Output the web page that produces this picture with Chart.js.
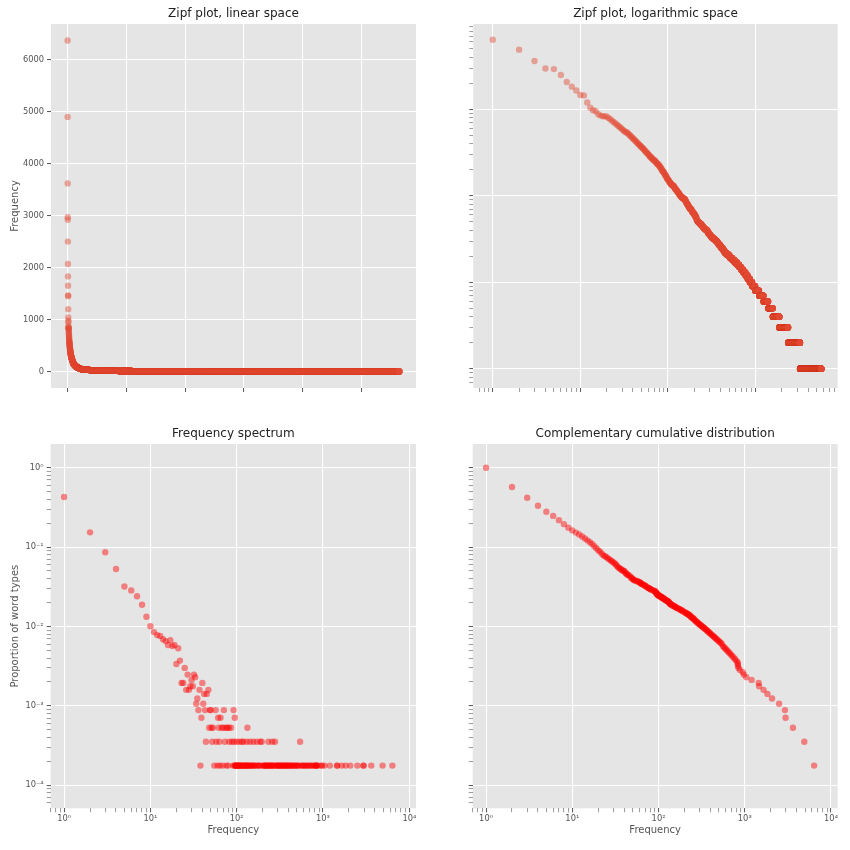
<!DOCTYPE html>
<html>
<head>
<meta charset="utf-8">
<script src="https://cdn.jsdelivr.net/npm/chart.js@4.4.1/dist/chart.umd.min.js"></script>
<style>
  html, body { margin: 0; padding: 0; background: #ffffff; }
  #figure { position: relative; width: 850px; height: 850px; overflow: hidden; }
  #figure canvas { position: absolute; }
</style>
</head>
<body>
<div id="figure">
  <canvas id="zipfLinear" width="425" height="420" style="left:0px;top:0px"></canvas>
  <canvas id="zipfLog" width="425" height="420" style="left:425px;top:0px"></canvas>
  <canvas id="freqSpectrum" width="425" height="430" style="left:0px;top:420px"></canvas>
  <canvas id="ccdf" width="425" height="430" style="left:425px;top:420px"></canvas>
</div>
<script>
// frequency spectrum: how many word types occur with a given frequency
const SPECTRUM_FREQ = [
  1, 2, 3, 4, 5, 6, 7, 8, 9, 10,
  11, 12, 13, 14, 15, 16, 17, 18, 19, 20,
  21, 22, 23, 24, 25, 26, 27, 28, 29, 30,
  31, 32, 33, 34, 35, 36, 37, 39, 40, 41,
  42, 43, 45, 47, 48, 49, 50, 51, 53, 57,
  61, 62, 65, 67, 70, 71, 75, 78, 81, 86,
  92, 95, 133,
];
const SPECTRUM_COUNT = [
  2420, 867, 486, 299, 180, 161, 136, 106, 75, 57,
  48, 44, 43, 39, 37, 33, 38, 32, 33, 19,
  30, 21, 11, 11, 17, 9, 14, 9, 10, 12,
  10, 14, 13, 6, 7, 5, 9, 4, 11, 6,
  8, 5, 8, 9, 3, 5, 5, 3, 3, 5,
  4, 3, 4, 3, 3, 5, 3, 3, 3, 3,
  5, 4, 3,
];
// frequencies shared by exactly two word types
const FREQ_SEEN_TWICE = [
  44, 52, 58, 63, 73, 82, 88, 93, 100, 108, 115, 120, 131, 143, 156, 171,
  187, 195, 233, 258, 278, 543,
];
// frequencies held by a single word type
const FREQ_SEEN_ONCE = [
  38, 55, 60, 64, 69, 76, 80, 91, 94, 96, 97, 98, 99, 101, 102, 104, 105,
  106, 109, 110, 112, 113, 116, 118, 121, 123, 125, 127, 129, 130, 135, 136,
  138, 140, 145, 148, 151, 154, 159, 163, 166, 175, 179, 183, 191, 203, 207,
  210, 214, 218, 222, 226, 229, 237, 241, 246, 250, 254, 262, 266, 271, 283,
  289, 294, 300, 306, 312, 318, 324, 331, 338, 345, 352, 360, 367, 375, 383,
  391, 398, 408, 418, 428, 439, 450, 461, 473, 486, 499, 512, 527, 558, 574,
  591, 609, 628, 648, 669, 692, 716, 741, 768, 796, 826, 830, 833, 847, 877,
  950, 975, 1042, 1200, 1450, 1465, 1650, 1830, 2070, 2500, 2920, 2970, 3620,
  4900, 6370,
];

const RANK_TICKS = [0, 1000, 2000, 3000, 4000, 5000];
const FREQ_TICKS = [0, 1000, 2000, 3000, 4000, 5000, 6000];

const FONT = "'DejaVu Sans', sans-serif";
const TICK_COLOR = "#555555";
const PANEL_BG = "#E5E5E5";
const ZIPF_COLOR = "rgba(226, 74, 51, 0.45)";
const SPECTRUM_COLOR = "rgba(255, 0, 0, 0.45)";

const spectrum = new Map();
SPECTRUM_FREQ.forEach((freq, i) => spectrum.set(freq, SPECTRUM_COUNT[i]));
FREQ_SEEN_TWICE.forEach((freq) => spectrum.set(freq, 2));
FREQ_SEEN_ONCE.forEach((freq) => spectrum.set(freq, 1));

const freqs = [...spectrum.keys()].sort((a, b) => a - b);
const totalTypes = freqs.reduce((sum, freq) => sum + spectrum.get(freq), 0);

const spectrumPoints = freqs.map((freq) => ({
  x: freq,
  y: spectrum.get(freq) / totalTypes,
}));

const rankedFreqs = [];
[...freqs].reverse().forEach((freq) => {
  for (let k = 0; k < spectrum.get(freq); k += 1) {
    rankedFreqs.push(freq);
  }
});
const zipfPoints = rankedFreqs.map((freq, i) => ({ x: i + 1, y: freq }));

let remaining = totalTypes;
const ccdfPoints = freqs.map((freq) => {
  const point = { x: freq, y: remaining / totalTypes };
  remaining -= spectrum.get(freq);
  return point;
});

const SUPERSCRIPT = { "0": "⁰", "1": "¹", "2": "²", "3": "³", "4": "⁴", "5": "⁵", "-": "⁻" };

const isPowerOfTen = (value) => {
  if (!(value > 0)) {
    return false;
  }
  const exp = Math.log10(value);
  return Math.abs(exp - Math.round(exp)) < 1e-9;
};

const logLabel = (value) => {
  if (!isPowerOfTen(value)) {
    return "";
  }
  const exp = String(Math.round(Math.log10(value)));
  return "10" + exp.split("").map((ch) => SUPERSCRIPT[ch]).join("");
};

const logTicks = (min, max) => {
  const ticks = [];
  for (let e = Math.floor(Math.log10(min)); e <= Math.ceil(Math.log10(max)); e += 1) {
    for (let m = 1; m <= 9; m += 1) {
      const value = m * Math.pow(10, e);
      if (value >= min && value <= max) {
        ticks.push(value);
      }
    }
  }
  return ticks;
};

const plotBackground = {
  id: "plotBackground",
  beforeDraw(chart) {
    const { ctx, chartArea } = chart;
    ctx.save();
    ctx.fillStyle = PANEL_BG;
    ctx.fillRect(chartArea.left, chartArea.top, chartArea.width, chartArea.height);
    ctx.restore();
  },
};

const buildAxis = ({ type, min, max, tickValues, labels, title, size, horizontal }) => {
  const isMajor = (value) => (type === "logarithmic" ? isPowerOfTen(value) : true);
  return {
    type,
    min,
    max,
    afterBuildTicks: (scale) => {
      scale.ticks = tickValues.map((value) => ({ value }));
    },
    afterFit: (scale) => {
      if (horizontal) {
        scale.height = size;
      } else {
        scale.width = size;
      }
    },
    grid: {
      color: (ctx) => (ctx.tick && isMajor(ctx.tick.value) ? "#ffffff" : "rgba(0, 0, 0, 0)"),
      lineWidth: 1.1,
      tickColor: TICK_COLOR,
      tickLength: 4,
      tickWidth: (ctx) => (ctx.tick && isMajor(ctx.tick.value) ? 1 : 0.6),
    },
    border: { display: false },
    ticks: {
      autoSkip: false,
      maxRotation: 0,
      color: TICK_COLOR,
      font: { family: FONT, size: 8.3 },
      padding: horizontal ? 1.5 : 3,
      callback: (value) => {
        if (labels === "log") {
          return logLabel(value);
        }
        if (labels === "plain") {
          return String(value);
        }
        return "";
      },
    },
    title: {
      display: Boolean(title),
      text: title || "",
      color: TICK_COLOR,
      font: { family: FONT, size: 10 },
      padding: horizontal ? { top: 0, bottom: 13.3 } : { top: 9.5, bottom: 0 },
    },
  };
};

const buildPanel = ({ canvasId, title, points, color, x, y, rightPad }) => {
  const canvas = document.getElementById(canvasId);
  return new Chart(canvas.getContext("2d"), {
    type: "scatter",
    plugins: [plotBackground],
    data: {
      datasets: [
        {
          data: points,
          pointRadius: 3.2,
          pointBackgroundColor: color,
          pointBorderWidth: 0,
          pointBorderColor: "rgba(0, 0, 0, 0)",
          showLine: false,
        },
      ],
    },
    options: {
      responsive: false,
      animation: false,
      events: [],
      layout: { padding: { top: 0, right: rightPad, bottom: 0, left: 0 } },
      plugins: {
        legend: { display: false },
        tooltip: { enabled: false },
        title: {
          display: true,
          text: title,
          fullSize: false,
          color: "#222222",
          font: { family: FONT, size: 12, weight: "normal" },
          padding: { top: 6.6, bottom: 3 },
        },
      },
      scales: {
        x: buildAxis({ ...x, horizontal: true }),
        y: buildAxis({ ...y, horizontal: false }),
      },
    },
  });
};

const specX = { min: 0.70, max: 11950 };
const specY = { min: 5.13e-5, max: 1.99 };

buildPanel({
  canvasId: "zipfLinear",
  title: "Zipf plot, linear space",
  points: zipfPoints,
  color: ZIPF_COLOR,
  rightPad: 9,
  x: { type: "linear", min: -281, max: 5929, tickValues: RANK_TICKS, labels: "none", size: 32 },
  y: { type: "linear", min: -318, max: 6688, tickValues: FREQ_TICKS, labels: "plain", title: "Frequency", size: 51 },
});

buildPanel({
  canvasId: "zipfLog",
  title: "Zipf plot, logarithmic space",
  points: zipfPoints,
  color: ZIPF_COLOR,
  rightPad: 12.3,
  x: { type: "logarithmic", min: 0.649, max: 8697, tickValues: logTicks(0.649, 8697), labels: "none", size: 32 },
  y: { type: "logarithmic", min: 0.645, max: 9700, tickValues: logTicks(0.645, 9700), labels: "none", size: 48.3 },
});

buildPanel({
  canvasId: "freqSpectrum",
  title: "Frequency spectrum",
  points: spectrumPoints,
  color: SPECTRUM_COLOR,
  rightPad: 9,
  x: { type: "logarithmic", ...specX, tickValues: logTicks(specX.min, specX.max), labels: "log", title: "Frequency", size: 41.7 },
  y: { type: "logarithmic", ...specY, tickValues: logTicks(specY.min, specY.max), labels: "log", title: "Proportion of word types", size: 50.7 },
});

buildPanel({
  canvasId: "ccdf",
  title: "Complementary cumulative distribution",
  points: ccdfPoints,
  color: SPECTRUM_COLOR,
  rightPad: 12.3,
  x: { type: "logarithmic", ...specX, tickValues: logTicks(specX.min, specX.max), labels: "log", title: "Frequency", size: 41.7 },
  y: { type: "logarithmic", ...specY, tickValues: logTicks(specY.min, specY.max), labels: "none", size: 47.7 },
});
</script>
</body>
</html>
